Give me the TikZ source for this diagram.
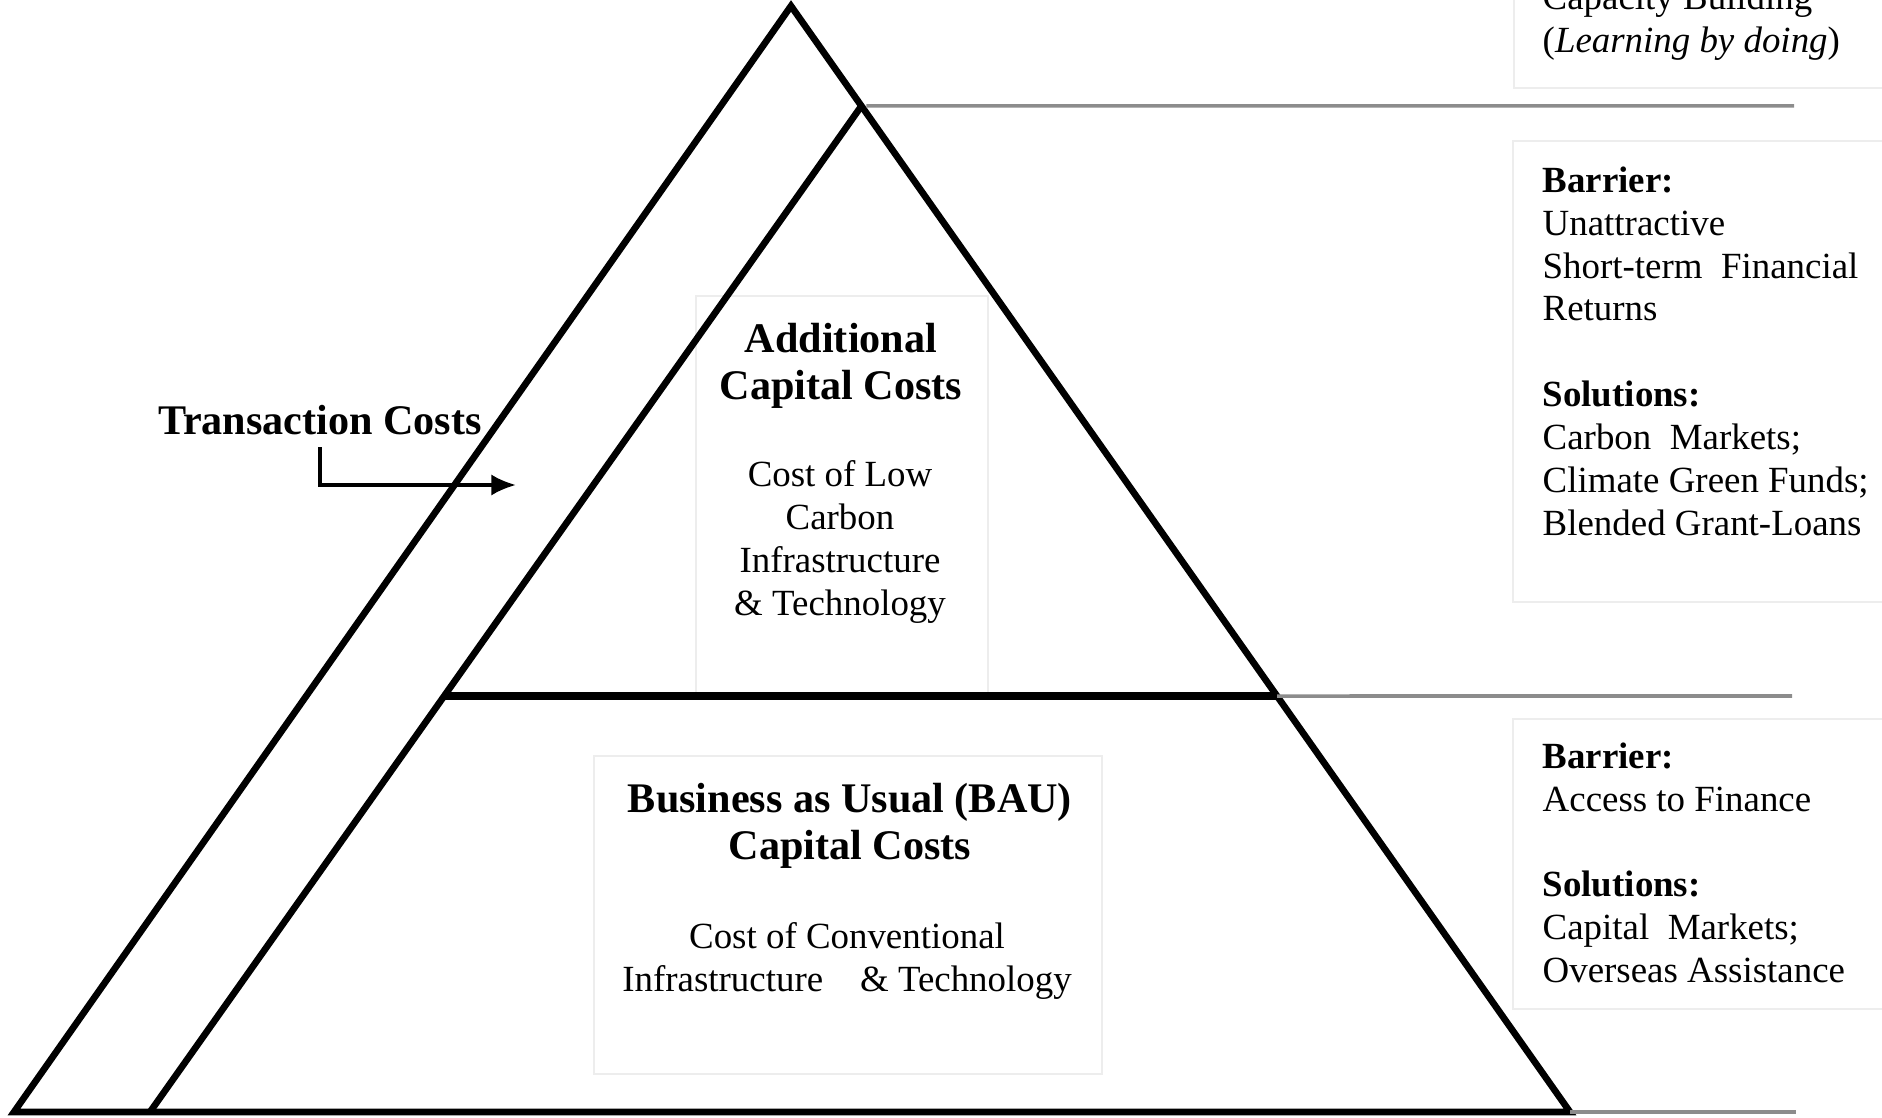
\documentclass[tikz,border=0pt]{standalone}
\usepackage{fontspec}
\setmainfont{Liberation Serif}
\usetikzlibrary{arrows.meta,calc}

\tikzset{
  edge/.style={line width=1.9pt, line join=miter},
  rule/.style={line width=1pt, draw=black!45},
  faintbox/.style={draw=black!7, line width=0.6pt, inner sep=0pt},
  head/.style={font=\fontsize{12}{13.4}\selectfont\bfseries, align=center},
  body/.style={font=\fontsize{10.5}{12.3}\selectfont, align=center},
  side/.style={font=\fontsize{10.5}{12.2}\selectfont, align=left, inner sep=0pt},
}

\begin{document}
\begin{tikzpicture}
  \useasboundingbox (0,0) rectangle (18.82,-11.18);
  \clip (0,0) rectangle (18.82,-11.18);

  % corners of the pyramid
  \coordinate (apex) at (7.91,-0.06);
  \coordinate (baseleft) at (0.14,-11.12);
  \coordinate (baseright) at (15.70,-11.12);
  \coordinate (innerapex) at ($(apex)!0.0904!(baseright)$);
  \coordinate (innerleft) at (1.50,-11.12);
  \coordinate (midleft) at ($(innerapex)!0.5865!(innerleft)$);
  \coordinate (midright) at ($(innerapex)!0.5865!(baseright)$);

  % ends of the grey rules on the right
  \coordinate (toprule) at (17.94,-1.06);
  \coordinate (midrule) at (17.92,-6.96);
  \coordinate (baserule) at (17.96,-11.12);

  % text boxes (very faint frames)
  \node[faintbox, minimum width=2.92cm, minimum height=3.98cm] (addlbox) at (8.42,-4.95) {};
  \node[faintbox, minimum width=5.08cm, minimum height=3.18cm] (baubox) at (8.48,-9.15) {};
  \draw[black!7, line width=0.6pt] (19,-0.88) -| (15.14,0.2);
  \node[faintbox, minimum width=4cm, minimum height=4.61cm, anchor=north west] (midbox) at (15.12,-1.40) {};
  \node[faintbox, minimum width=4cm, minimum height=2.90cm, anchor=north west] (lowbox) at (15.12,-7.18) {};

  % pyramid
  \draw[edge] (apex) -- (baseleft) -- (baseright) -- cycle;
  \draw[edge] (innerapex) -- (innerleft);
  \draw[edge, line width=2.3pt] (midleft) -- (midright);

  % grey rules
  \draw[rule] ($(innerapex)+(0.05,0)$) -- (toprule);
  \draw[rule] (midright) -- (midrule);
  \draw[rule] (baseright) -- (baserule);

  % labels inside the pyramid
  \node[head] (addl) at (8.41,-3.66) {Additional\\Capital Costs};
  \node[body] (addlbody) at (8.40,-5.42) {Cost of Low\\Carbon\\Infrastructure\\\& Technology};
  \node[head] (bau) at (8.50,-8.255) {Business as Usual (BAU)\\Capital Costs};
  \node[body] (baubody) at (8.47,-9.61) {Cost of Conventional\\Infrastructure\quad\& Technology};

  % transaction costs and its arrow
  \node[head] (tc) at (3.20,-4.20) {Transaction Costs};
  \coordinate (tctip) at (5.16,-4.85);
  \draw[line width=1pt, -{Latex[length=7pt,width=6pt]}] (tc.south) |- (tctip);

  % barriers and solutions
  \node[side, anchor=south west] (learn) at (15.42,-0.61)
    {Capacity Building\\(\textit{Learning by doing})};
  \node[side, anchor=north west] (upper) at (15.42,-1.66)
    {\textbf{Barrier:}\\Unattractive\\Short-term\ \ Financial\\Returns\\[12.2pt]
     \textbf{Solutions:}\\Carbon\ \ Markets;\\Climate Green Funds;\\Blended Grant-Loans};
  \node[side, anchor=north west] (lower) at (15.42,-7.42)
    {\textbf{Barrier:}\\Access to Finance\\[12.2pt]
     \textbf{Solutions:}\\Capital\ \ Markets;\\Overseas Assistance};
\end{tikzpicture}
\end{document}
